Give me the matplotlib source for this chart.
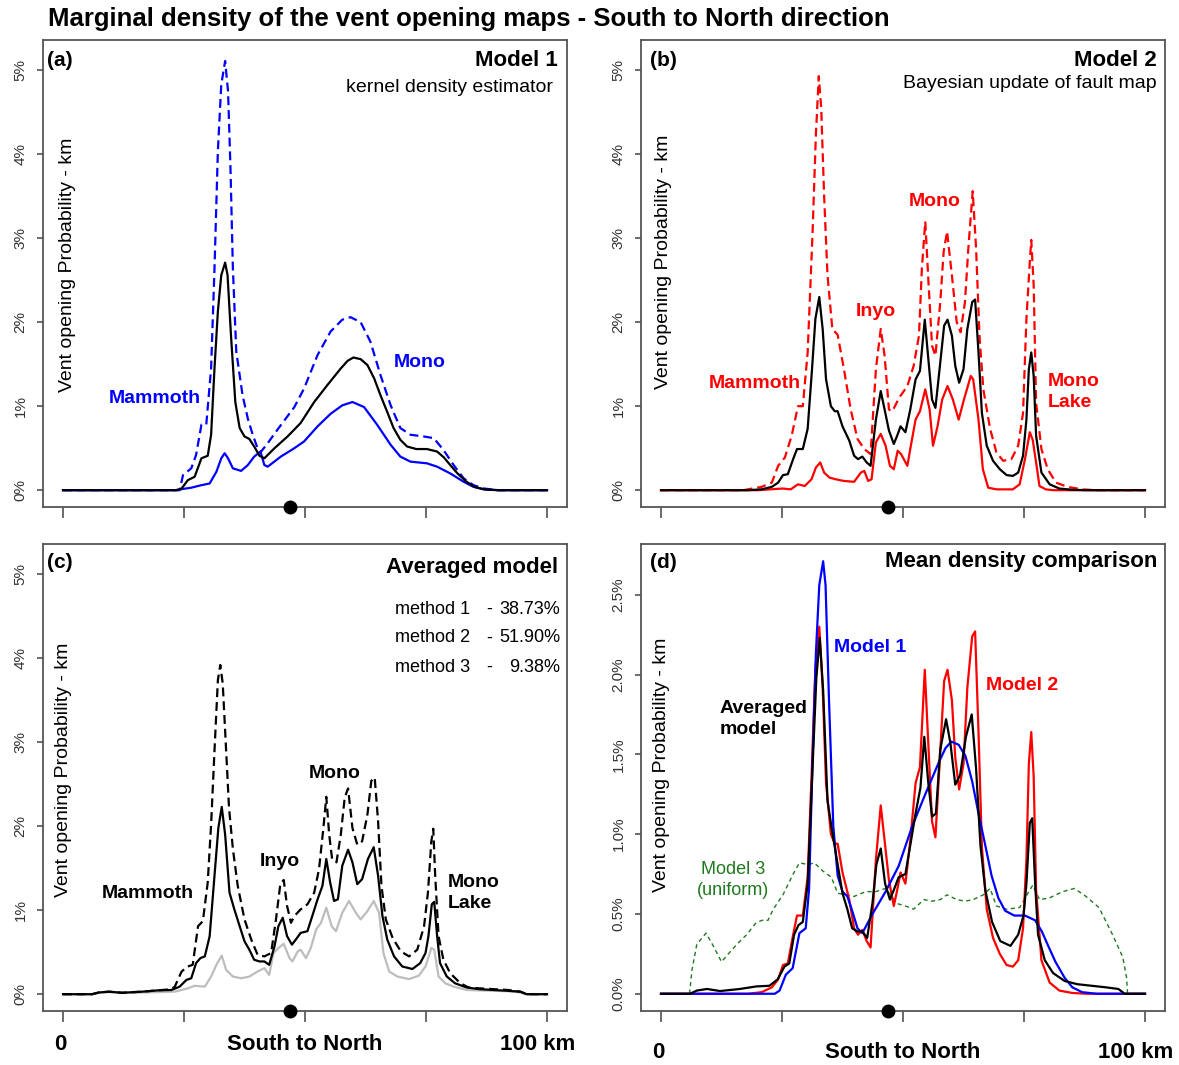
import matplotlib
matplotlib.use("Agg")
import matplotlib.pyplot as plt

plt.rcParams['font.family'] = ['Liberation Sans', 'DejaVu Sans']

# ---------------- data (values in %, x in km) ----------------
km_ticks = [0, 25, 50, 75, 100]
dot_km = 46.8

# Model 1 (kernel density estimator) - mean, upper, lower
m1_mean_x = [0, 23.5, 24.5, 25.8, 27.2, 28.6, 29.9, 30.6, 31.3, 32, 32.7, 33.5, 34, 34.7, 35.6, 36.5, 37.5,
             38.5, 39.5, 40.6, 41.6, 43.7, 46.4, 49.1, 51.9, 54.6, 57.4, 58.8, 60, 61.5, 62.9, 64.3, 65.6,
             67.0, 68.3, 69.7, 71.1, 73, 75.2, 77.3, 78.7, 80, 81.5, 83.4, 85, 87, 90, 100]
m1_mean_y = [0, 0, 0.02, 0.12, 0.16, 0.38, 0.41, 0.66, 1.45, 2.13, 2.56, 2.71, 2.56, 1.85, 1.05, 0.74, 0.64,
             0.61, 0.52, 0.41, 0.38, 0.5, 0.64, 0.8, 1.05, 1.25, 1.45, 1.54, 1.58, 1.56, 1.49, 1.33, 1.13,
             0.93, 0.74, 0.6, 0.52, 0.49, 0.49, 0.46, 0.39, 0.3, 0.2, 0.1, 0.04, 0.01, 0.0, 0]
m1_up_x = [0, 24.1, 24.8, 26.5, 27.5, 28.6, 29.6, 30.6, 31.3, 32, 32.7, 33.5, 34.1, 34.6, 35.1, 35.8, 37.1,
           38.2, 39.2, 40.2, 40.8, 42.3, 44.3, 47.8, 49.8, 52.6, 55.3, 57.7, 59.4, 61.5, 63.5, 65.6, 67.7,
           69.7, 71.8, 74.5, 76.6, 78.6, 80.7, 82.8, 84.8, 87, 90, 100]
m1_up_y = [0, 0, 0.18, 0.26, 0.42, 0.78, 0.78, 1.45, 2.64, 4.04, 4.83, 5.11, 4.75, 3.84, 2.64, 1.65, 1.13,
           0.85, 0.66, 0.5, 0.45, 0.56, 0.72, 0.99, 1.21, 1.61, 1.89, 2.03, 2.06, 2.0, 1.77, 1.37, 1.01,
           0.74, 0.66, 0.64, 0.62, 0.48, 0.3, 0.14, 0.06, 0.02, 0.0, 0]
m1_low_x = [0, 23.1, 26.5, 28.6, 30.3, 31.7, 32.7, 33.4, 34.1, 35.1, 36.8, 38.2, 39.5, 40.8, 41.6, 42.3, 45,
            47.8, 49.8, 52.6, 55.3, 57.7, 59.8, 62.2, 64.9, 67.7, 69.7, 71.8, 75.2, 77.3, 80, 82.8, 84.8,
            87, 90, 100]
m1_low_y = [0, 0, 0.03, 0.06, 0.08, 0.22, 0.38, 0.44, 0.38, 0.26, 0.23, 0.3, 0.4, 0.46, 0.3, 0.28, 0.4,
            0.5, 0.58, 0.76, 0.91, 1.01, 1.05, 0.99, 0.78, 0.54, 0.4, 0.34, 0.32, 0.28, 0.2, 0.1, 0.04,
            0.01, 0.0, 0]

# Model 2 (Bayesian update of fault map) - mean, upper, lower
m2_mean_x = [0, 18, 20.8, 22.9, 24.2, 25.2, 26.2, 27.3, 28.1, 29.3, 30.3, 31.2, 31.9, 32.7, 33.4, 34.1, 35.1,
             35.9, 36.5, 37.5, 38.9, 39.9, 40.7, 41.6, 42.5, 43.3, 44.4, 45.4, 46.2, 47.1, 48.1, 48.8, 49.5,
             50.5, 51.5, 52.6, 53.5, 54.5, 55.3, 56, 56.7, 57.7, 58.5, 59.2, 60.1, 60.8, 61.6, 62.5, 63.3,
             64.3, 64.9, 65.6, 66.3, 67.3, 68.6, 70, 71.4, 72.7, 73.8, 74.8, 75.5, 76, 76.5, 77, 77.5,
             78.6, 80.3, 82.3, 85, 88, 100]
m2_mean_y = [0, 0, 0.01, 0.04, 0.09, 0.18, 0.19, 0.37, 0.49, 0.49, 0.73, 1.44, 2.04, 2.3, 1.92, 1.32, 1.0,
             0.94, 0.94, 0.76, 0.59, 0.41, 0.37, 0.4, 0.33, 0.29, 0.84, 1.18, 0.96, 0.71, 0.55, 0.65, 0.76,
             0.69, 0.96, 1.32, 1.42, 2.03, 1.52, 1.08, 0.98, 1.52, 1.96, 2.03, 1.84, 1.48, 1.28, 1.44, 1.92,
             2.24, 2.27, 1.64, 0.92, 0.53, 0.35, 0.25, 0.18, 0.17, 0.21, 0.41, 0.84, 1.44, 1.64, 1.36, 0.65,
             0.21, 0.07, 0.02, 0.005, 0, 0]
m2_up_x = [0, 17, 20.8, 22.9, 24.2, 25.6, 27, 28.3, 29.3, 30.3, 31.3, 32, 32.6, 33.1, 33.7, 34.4, 35.4,
           36.5, 37.8, 39.2, 40.6, 42, 43.3, 44.4, 45.4, 46.2, 47.1, 47.8, 49.2, 50.9, 52.2, 53.3, 53.9,
           54.6, 55.3, 56, 56.7, 57.7, 58.4, 59.1, 60.1, 61.1, 61.9, 62.8, 63.5, 64.4, 65.1, 65.8, 66.6,
           68, 69.3, 70.7, 72.4, 73.8, 74.8, 75.5, 76.2, 76.5, 77, 77.5, 78.6, 79.9, 81.6, 84, 87, 90, 100]
m2_up_y = [0, 0, 0.04, 0.09, 0.29, 0.39, 0.65, 1.0, 1.0, 1.64, 3.04, 4.23, 4.93, 4.55, 3.51, 2.56, 1.92,
           1.85, 1.44, 0.96, 0.61, 0.49, 0.43, 1.44, 1.92, 1.6, 0.96, 0.94, 1.1, 1.24, 1.48, 1.84, 2.64,
           3.2, 2.44, 1.72, 1.6, 2.24, 2.84, 3.08, 2.56, 2.0, 1.88, 2.24, 2.88, 3.56, 2.88, 1.84, 1.2,
           0.73, 0.45, 0.35, 0.37, 0.53, 0.92, 2.04, 2.72, 2.98, 2.44, 1.04, 0.49, 0.25, 0.09, 0.04, 0.01,
           0, 0]
m2_low_x = [0, 20, 25.1, 26.8, 28.3, 29.7, 31.1, 32, 32.9, 33.7, 34.8, 36.1, 37.8, 39.9, 41.3, 42, 42.8,
            43.5, 44.4, 45.4, 46.4, 47.3, 48.1, 48.9, 49.6, 50.9, 51.5, 52.6, 53.5, 54.6, 55.5, 56.2, 57.1,
            58.1, 59.2, 60.3, 61.5, 62.6, 64, 64.5, 65.6, 66.5, 67.6, 69.3, 72.7, 74.1, 75.2, 76.2, 76.8,
            77.5, 78.2, 79.5, 81, 100]
m2_low_y = [0, 0, 0.02, 0.01, 0.07, 0.05, 0.13, 0.27, 0.33, 0.21, 0.15, 0.13, 0.11, 0.1, 0.21, 0.23, 0.11,
            0.13, 0.57, 0.67, 0.53, 0.29, 0.25, 0.47, 0.43, 0.29, 0.49, 0.84, 0.94, 1.2, 0.96, 0.53, 0.75,
            1.08, 1.24, 1.08, 0.84, 1.08, 1.36, 1.32, 0.84, 0.25, 0.03, 0.01, 0.01, 0.07, 0.37, 0.69, 0.6,
            0.33, 0.05, 0.01, 0, 0]

# Averaged model - mean, upper, lower
avg_mean_x = [0, 6.0, 7.4, 9.5, 12.2, 16.3, 19.7, 22.4, 24.1, 25.5, 26.5, 27.5, 28.4, 29.3, 30.3, 31.3, 32.1,
              32.8, 33.5, 34.4, 35.4, 36.5, 37.5, 38.5, 39.5, 40.6, 41.6, 42.6, 43.7, 44.5, 45.4, 46.3, 47.3,
              48.1, 49.1, 50.5, 51.5, 52.6, 53.6, 54.4, 55.2, 56, 56.8, 57.7, 58.9, 59.8, 60.8, 61.8, 63,
              64.2, 65.1, 66, 67, 68.4, 70.1, 72.2, 73.8, 74.9, 75.5, 76.2, 76.7, 77.3, 77.9, 79.3, 81, 83.4,
              86, 89, 92, 94.5, 95.8, 100]
avg_mean_y = [0, 0, 0.02, 0.03, 0.017, 0.03, 0.046, 0.05, 0.09, 0.17, 0.19, 0.37, 0.43, 0.45, 0.69, 1.41, 1.98,
              2.23, 1.9, 1.21, 1.01, 0.81, 0.63, 0.53, 0.41, 0.39, 0.39, 0.35, 0.57, 0.81, 0.91, 0.69, 0.59,
              0.65, 0.73, 0.75, 0.93, 1.13, 1.29, 1.61, 1.33, 1.11, 1.13, 1.53, 1.72, 1.57, 1.31, 1.37, 1.61,
              1.75, 1.41, 0.93, 0.65, 0.45, 0.33, 0.3, 0.37, 0.49, 0.69, 1.07, 1.1, 0.69, 0.37, 0.21, 0.13, 0.08,
              0.06, 0.05, 0.04, 0.03, 0, 0]
avg_up_x = [0, 6.0, 7.4, 9.5, 12.2, 16.3, 19.7, 22.4, 23.1, 24.5, 25.8, 26.8, 27.9, 28.9, 29.9, 30.6, 31.3,
            32, 32.5, 33, 33.6, 34.3, 35.1, 36.1, 37.5, 38.9, 40.2, 41.6, 43, 44, 44.9, 45.6, 46.3, 47.1,
            47.8, 49.1, 50.5, 51.9, 52.9, 53.8, 54.4, 55, 55.6, 56.5, 57.4, 58.2, 58.9, 59.8, 60.8, 61.8,
            62.9, 63.7, 64.4, 65.1, 65.8, 66.7, 68.1, 69.8, 71.5, 73.2, 74.6, 75.4, 76.1, 76.5, 76.9, 77.6,
            78.6, 80, 82.1, 83.8, 86, 89, 92, 94.5, 95.8, 100]
avg_up_y = [0, 0, 0.02, 0.03, 0.017, 0.03, 0.046, 0.06, 0.09, 0.27, 0.33, 0.35, 0.81, 0.87, 1.33, 2.02, 2.9,
            3.74, 3.92, 3.7, 3.02, 2.22, 1.73, 1.29, 0.89, 0.65, 0.47, 0.45, 0.49, 0.89, 1.31, 1.36, 1.05, 0.85,
            0.93, 1.01, 1.07, 1.21, 1.49, 1.98, 2.35, 1.9, 1.61, 1.57, 1.9, 2.34, 2.45, 1.98, 1.78, 1.82,
            2.14, 2.54, 2.58, 2.06, 1.29, 0.89, 0.67, 0.51, 0.45, 0.53, 0.81, 1.21, 1.82, 1.97, 1.41, 0.69,
            0.41, 0.25, 0.13, 0.08, 0.07, 0.06, 0.05, 0.03, 0, 0]
avg_low_x = [0, 6.0, 7.4, 9.5, 12.2, 16.3, 19.7, 23.1, 25.8, 27.2, 29.3, 30.6, 31.7, 32.8, 33.7, 35.1, 36.8,
             38.5, 40.2, 41.6, 42.6, 43.5, 44.5, 45.6, 46.8, 47.4, 48.5, 49.1, 50.2, 51.2, 52.3, 53.3, 54.4,
             55.5, 56.4, 57.7, 59.1, 60.5, 61.5, 62.9, 64.2, 65.3, 66.2, 67.4, 69.1, 71.5, 73.5, 74.9, 76.1,
             76.7, 77.6, 79, 80.7, 83.4, 86, 89, 92, 94.5, 95.8, 100]
avg_low_y = [0, 0, 0.02, 0.025, 0.015, 0.02, 0.025, 0.03, 0.07, 0.1, 0.09, 0.21, 0.35, 0.46, 0.29, 0.21, 0.19,
             0.21, 0.27, 0.31, 0.23, 0.49, 0.55, 0.6, 0.43, 0.39, 0.51, 0.53, 0.43, 0.55, 0.77, 0.85, 1.03,
             0.81, 0.75, 0.97, 1.11, 0.97, 0.89, 0.99, 1.11, 0.97, 0.49, 0.27, 0.21, 0.18, 0.22, 0.33, 0.55,
             0.53, 0.21, 0.13, 0.09, 0.05, 0.045, 0.04, 0.035, 0.02, 0, 0]

# Model 3 (uniform)
m3_x = [5.9, 6.4, 7.4, 9.3, 10.8, 12.5, 14.2, 16, 17.7, 19.5, 20.8, 22.1, 23.2, 25.2, 27.3, 28.6, 30.4, 31.7,
        33.4, 35.2, 36.5, 38.2, 39.9, 42.3, 44.4, 46.4, 48.8, 50.5, 52.2, 54.3, 56, 57.7, 59.1, 61.1, 62.8,
        64.5, 66.6, 68, 69.3, 71.4, 74.1, 75.8, 76.8, 78.2, 80.2, 83, 85.4, 87.8, 90.5, 93.3, 95.4, 96.2, 96.4]
m3_y = [0, 0.15, 0.31, 0.38, 0.3, 0.2, 0.26, 0.32, 0.37, 0.44, 0.46, 0.46, 0.53, 0.62, 0.75, 0.82, 0.81, 0.82,
        0.77, 0.73, 0.63, 0.62, 0.61, 0.64, 0.64, 0.66, 0.565, 0.55, 0.53, 0.59, 0.58, 0.59, 0.62, 0.59, 0.58,
        0.59, 0.62, 0.66, 0.55, 0.53, 0.54, 0.63, 0.68, 0.59, 0.6, 0.64, 0.66, 0.61, 0.54, 0.37, 0.23, 0.1, 0]

method_names = ["method 1", "method 2", "method 3"]
method_weights = ["38.73%", "51.90%", "9.38%"]

# ---------------- figure ----------------
W, H = 1179, 1065
fig = plt.figure(figsize=(W / 100, H / 100), dpi=100)

XL = (-4.2, 104.2)
PXK = 4.84
axw = (XL[1] - XL[0]) * PXK
axh = 467


def make_ax(x0km_px, bottom_px, ylim, yticks, yticklabels):
    left = x0km_px + XL[0] * PXK
    ax = fig.add_axes([left / W, 1 - bottom_px / H, axw / W, axh / H])
    ax.set_xlim(*XL)
    ax.set_ylim(*ylim)
    ax.set_xticks(km_ticks)
    ax.set_xticklabels([])
    ax.set_yticks(yticks)
    ax.set_yticklabels(yticklabels, rotation=90, va='center', fontsize=11, color='#333333')
    ax.tick_params(axis='x', direction='out', length=8, width=1.1, color='#444444')
    ax.tick_params(axis='y', direction='out', length=4, width=1.1, color='#444444', pad=7)
    for sp in ax.spines.values():
        sp.set_color('#555555')
        sp.set_linewidth(1.3)
    ax.plot([dot_km], [ylim[0]], 'o', color='black', ms=9, clip_on=False, zorder=10)
    return ax


YL5 = (-0.2, 5.36)
t5 = [0, 1, 2, 3, 4, 5]
l5 = ["0%", "1%", "2%", "3%", "4%", "5%"]

axa = make_ax(63, 507, YL5, t5, l5)
axb = make_ax(661, 507, YL5, t5, l5)
axc = make_ax(63, 1011, YL5, t5, l5)
YLd = (-0.108, 2.818)
td = [0, 0.5, 1.0, 1.5, 2.0, 2.5]
ld = ["0.0%", "0.5%", "1.0%", "1.5%", "2.0%", "2.5%"]
axd = make_ax(661, 1011, YLd, td, ld)

LW = 1.6
DASH = (4, 2.2)
JS = dict(solid_joinstyle='round', dash_joinstyle='round')

# (a)
axa.plot(m1_up_x, m1_up_y, color='blue', lw=LW, dashes=DASH, **JS)
axa.plot(m1_low_x, m1_low_y, color='blue', lw=LW, **JS)
axa.plot(m1_mean_x, m1_mean_y, color='black', lw=LW, **JS)
# (b)
axb.plot(m2_up_x, m2_up_y, color='red', lw=LW, dashes=DASH, **JS)
axb.plot(m2_low_x, m2_low_y, color='red', lw=LW, **JS)
axb.plot(m2_mean_x, m2_mean_y, color='black', lw=LW, **JS)
# (c)
axc.plot(avg_low_x, avg_low_y, color='#bdbdbd', lw=LW, **JS)
axc.plot(avg_up_x, avg_up_y, color='black', lw=LW, dashes=DASH, **JS)
axc.plot(avg_mean_x, avg_mean_y, color='black', lw=LW, **JS)
# (d)
axd.plot(m3_x, m3_y, color='#1f7a1f', lw=1.0, dashes=(3, 2.5))
axd.plot(m2_mean_x, m2_mean_y, color='red', lw=LW, **JS)
axd.plot(m1_mean_x, m1_mean_y, color='blue', lw=LW, **JS)
axd.plot(avg_mean_x, avg_mean_y, color='black', lw=LW, **JS)


def ftext(x, y, s, **kw):
    kw.setdefault('va', 'center')
    fig.text(x / W, 1 - y / H, s, **kw)


ftext(48, 19, "Marginal density of the vent opening maps - South to North direction",
      fontsize=18.5, fontweight='bold', ha='left')

YLAB = "Vent opening Probability - km"
for (x, y) in [(67, 265), (664, 262), (64, 770), (662, 765)]:
    ftext(x, y, YLAB, rotation=90, ha='center', fontsize=14)

# panel a
ftext(47, 60, "(a)", fontsize=15, fontweight='bold', ha='left')
ftext(558, 60, "Model 1", fontsize=16, fontweight='bold', ha='right')
ftext(553, 88, "kernel density estimator", fontsize=14, ha='right')
ftext(155, 399, "Mammoth", fontsize=14, fontweight='bold', ha='center', color='blue')
ftext(420, 362, "Mono", fontsize=14, fontweight='bold', ha='center', color='blue')

# panel b
ftext(650, 60, "(b)", fontsize=15, fontweight='bold', ha='left')
ftext(1157, 60, "Model 2", fontsize=16, fontweight='bold', ha='right')
ftext(1157, 84, "Bayesian update of fault map", fontsize=14, ha='right')
ftext(755, 384, "Mammoth", fontsize=14, fontweight='bold', ha='center', color='red')
ftext(876, 311, "Inyo", fontsize=14, fontweight='bold', ha='center', color='red')
ftext(935, 202, "Mono", fontsize=14, fontweight='bold', ha='center', color='red')
ftext(1048, 392, "Mono\nLake", fontsize=14, fontweight='bold', ha='left', color='red', linespacing=1.35)

# panel c
ftext(47, 563, "(c)", fontsize=15, fontweight='bold', ha='left')
ftext(558, 567, "Averaged model", fontsize=16, fontweight='bold', ha='right')
for i, (nm, wt) in enumerate(zip(method_names, method_weights)):
    yy = 609 + 29 * i
    ftext(395, yy, nm, fontsize=13, ha='left')
    ftext(489, yy, "-", fontsize=13, ha='center')
    ftext(560, yy, wt, fontsize=13, ha='right')
ftext(148, 894, "Mammoth", fontsize=14, fontweight='bold', ha='center')
ftext(280, 862, "Inyo", fontsize=14, fontweight='bold', ha='center')
ftext(335, 774, "Mono", fontsize=14, fontweight='bold', ha='center')
ftext(448, 893, "Mono\nLake", fontsize=14, fontweight='bold', ha='left', linespacing=1.35)

# panel d
ftext(650, 563, "(d)", fontsize=15, fontweight='bold', ha='left')
ftext(1157, 562, "Mean density comparison", fontsize=16, fontweight='bold', ha='right')
ftext(870, 647, "Model 1", fontsize=14, fontweight='bold', ha='center', color='blue')
ftext(1022, 686, "Model 2", fontsize=14, fontweight='bold', ha='center', color='red')
ftext(720, 719, "Averaged\nmodel", fontsize=14, fontweight='bold', ha='left', linespacing=1.35)
ftext(733, 880, "Model 3\n(uniform)", fontsize=13, ha='center', color='#1f7a1f', linespacing=1.3)

# bottom labels
for (x0, yb) in [(63, 1044), (661, 1052)]:
    ftext(x0 - 3, yb, "0", fontsize=16, fontweight='bold', ha='center')
    ftext(x0 + 242, yb, "South to North", fontsize=16, fontweight='bold', ha='center')
    ftext(x0 + 475, yb, "100 km", fontsize=16, fontweight='bold', ha='center')

fig.savefig("out.png", dpi=100)
